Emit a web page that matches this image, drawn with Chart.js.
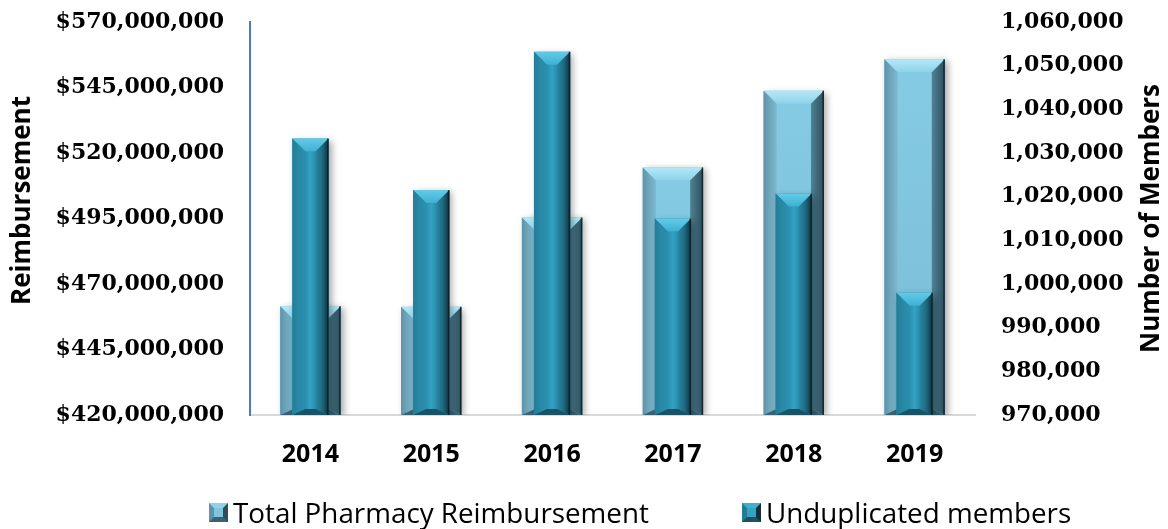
<!DOCTYPE html>
<html>
<head>
<meta charset="utf-8">
<title>Pharmacy reimbursement and members</title>
<script src="https://cdn.jsdelivr.net/npm/chart.js@4.4.1/dist/chart.umd.min.js"></script>
<style>
  html, body { margin: 0; padding: 0; background: #fff; }
  #wrap { position: relative; width: 1168px; height: 529px; }
  #legend { position: absolute; left: 0; top: 0; width: 100%; height: 100%; pointer-events: none;
            font-family: "Open Sans", sans-serif; font-size: 27.8px; color: #000; }
  .item { position: absolute; top: 494px; height: 36px; display: flex; align-items: center; white-space: nowrap; }
  .swatch { width: 9px; height: 9px; border-style: solid; border-width: 5px; margin-right: 5px; }
</style>
</head>
<body>
<div id="wrap">
  <canvas id="chart" width="1168" height="529"></canvas>
  <div id="legend"></div>
</div>
<script>
const years = ['2014', '2015', '2016', '2017', '2018', '2019'];
const reimbursement = [461500000, 461300000, 495400000, 514500000, 543800000, 555800000];
const members = [1033300, 1021500, 1053200, 1015000, 1020700, 998000];
const seriesNames = ['Total Pharmacy Reimbursement', 'Unduplicated members'];
const axisTitles = ['Reimbursement', 'Number of Members'];

const reimbMin = 420000000, reimbMax = 570000000, reimbStep = 25000000;
const membersMin = 970000, membersMax = 1060000, membersStep = 10000;

// bevel colours for the two bar styles (gradient stops run left to right / top to bottom)
const looks = {
  wide: {
    depth: 13, bottomDepth: 6,
    face: ['#86cbe4', '#7fc3dc', '#79bcd6'],
    top: ['#b2e8f8', '#8ed3ea'],
    left: ['#5f93a7', '#6fa8bd', '#7cb7cd'],
    right: ['#4f8396', '#3e6878', '#2e4e5b'],
    bottom: '#3b6272'
  },
  narrow: {
    depth: 13, bottomDepth: 6,
    face: ['#2a8fae', '#33a2c3', '#2a8cab'],
    top: ['#62cbe7', '#3fb0d2'],
    left: ['#247d97', '#2889a7', '#2a8fae'],
    right: ['#2787a5', '#1f6a80', '#10303a'],
    bottom: '#1a5365'
  }
};

function poly(ctx, pts, fill) {
  ctx.beginPath();
  ctx.moveTo(pts[0][0], pts[0][1]);
  for (let i = 1; i < pts.length; i++) ctx.lineTo(pts[i][0], pts[i][1]);
  ctx.closePath();
  ctx.fillStyle = fill;
  ctx.fill();
}

function gradient(ctx, x0, y0, x1, y1, stops) {
  const g = ctx.createLinearGradient(x0, y0, x1, y1);
  stops.forEach((c, i) => g.addColorStop(i / (stops.length - 1), c));
  return g;
}

function drawBevel(ctx, bar, look, flatFace) {
  const half = bar.width / 2;
  const x0 = bar.x - half, x1 = bar.x + half;
  const y0 = Math.min(bar.y, bar.base), y1 = Math.max(bar.y, bar.base);
  const b = Math.min(look.depth, half - 2, (y1 - y0) / 2);
  const bb = Math.min(look.bottomDepth, (y1 - y0) / 3);

  ctx.fillStyle = flatFace
    ? gradient(ctx, 0, y0, 0, y1, look.face)
    : gradient(ctx, x0 + b, 0, x1 - b, 0, look.face);
  ctx.fillRect(x0 + b, y0 + b, x1 - x0 - 2 * b, y1 - y0 - b - bb);

  poly(ctx, [[x0, y0], [x1, y0], [x1 - b, y0 + b], [x0 + b, y0 + b]],
    gradient(ctx, 0, y0, 0, y0 + b, look.top));
  poly(ctx, [[x0, y0], [x0 + b, y0 + b], [x0 + b, y1 - bb], [x0, y1]],
    gradient(ctx, x0, 0, x0 + b, 0, look.left));
  poly(ctx, [[x1, y0], [x1, y1], [x1 - b, y1 - bb], [x1 - b, y0 + b]],
    gradient(ctx, x1 - b, 0, x1, 0, look.right));
  poly(ctx, [[x0, y1], [x0 + b, y1 - bb], [x1 - b, y1 - bb], [x1, y1]], look.bottom);

  ctx.fillStyle = 'rgba(10,30,38,0.8)';
  ctx.fillRect(x1 - 1.5, y0, 1.5, y1 - y0);
}

// soft shadow under each bar, then the bevel on top of it
const bevelBars = {
  id: 'bevelBars',
  beforeDatasetDraw(chart) {
    const ctx = chart.ctx;
    ctx.save();
    ctx.shadowColor = 'rgba(0,0,0,0.35)';
    ctx.shadowBlur = 7;
    ctx.shadowOffsetX = 3;
    ctx.shadowOffsetY = 2;
  },
  afterDatasetDraw(chart, args) {
    const ctx = chart.ctx;
    ctx.restore();
    const key = chart.data.datasets[args.index].look;
    ctx.save();
    args.meta.data.forEach(bar => drawBevel(ctx, bar, looks[key], key === 'wide'));
    ctx.restore();
  }
};

// both axis titles read bottom to top
const sideTitles = {
  id: 'sideTitles',
  afterDraw(chart) {
    const {ctx, chartArea} = chart;
    const mid = (chartArea.top + chartArea.bottom) / 2;
    ctx.save();
    ctx.font = 'bold 26px "Open Sans"';
    ctx.fillStyle = '#000';
    ctx.textAlign = 'center';
    ctx.textBaseline = 'middle';
    [[23, mid - 18, axisTitles[0]], [1152, mid, axisTitles[1]]].forEach(([x, y, text]) => {
      ctx.save();
      ctx.translate(x, y);
      ctx.rotate(-Math.PI / 2);
      ctx.fillText(text, 0, 0);
      ctx.restore();
    });
    ctx.restore();
  }
};

const tickFont = {family: 'DejaVu Serif', weight: 'bold', size: 22};
// hidden tick marks keep the labels 26px away from the plot
const hiddenGrid = {display: false, drawTicks: true, tickLength: 26};

new Chart(document.getElementById('chart'), {
  type: 'bar',
  data: {
    labels: years,
    datasets: [
      {
        label: seriesNames[1],
        data: members,
        yAxisID: 'y1',
        base: membersMin,
        look: 'narrow',
        backgroundColor: '#2a91b0',
        borderWidth: 0,
        barPercentage: 0.3,
        categoryPercentage: 1
      },
      {
        label: seriesNames[0],
        data: reimbursement,
        yAxisID: 'y',
        base: reimbMin,
        look: 'wide',
        backgroundColor: '#7fc3dc',
        borderWidth: 0,
        barPercentage: 0.5,
        categoryPercentage: 1
      }
    ]
  },
  options: {
    responsive: false,
    devicePixelRatio: 1,
    animation: false,
    layout: {padding: {top: 22, left: 0, right: 0, bottom: 0}},
    datasets: {bar: {grouped: false}},
    plugins: {legend: {display: false}, tooltip: {enabled: false}},
    scales: {
      x: {
        grid: {display: false, drawTicks: false},
        border: {color: '#d9d9d9', width: 2},
        ticks: {color: '#000', padding: 25, font: {family: 'Open Sans', weight: 'bold', size: 25}},
        afterFit: s => { s.height = 114; }
      },
      y: {
        position: 'left',
        min: reimbMin,
        max: reimbMax,
        grid: hiddenGrid,
        border: {color: '#4a7ebb', width: 2},
        ticks: {
          stepSize: reimbStep,
          color: '#000',
          padding: 0,
          font: tickFont,
          callback: v => '$' + v.toLocaleString('en-US')
        },
        afterFit: s => { s.width = 250; }
      },
      y1: {
        position: 'right',
        min: membersMin,
        max: membersMax,
        grid: hiddenGrid,
        border: {display: false},
        ticks: {
          stepSize: membersStep,
          color: '#000',
          padding: 0,
          font: tickFont,
          callback: v => v.toLocaleString('en-US')
        },
        afterFit: s => { s.width = 193; }
      }
    }
  },
  plugins: [bevelBars, sideTitles]
});

// legend below the plot
const legendItems = [
  {name: seriesNames[0], left: 209, look: looks.wide},
  {name: seriesNames[1], left: 742, look: looks.narrow}
];
const legendEl = document.getElementById('legend');
legendItems.forEach(item => {
  const el = document.createElement('div');
  el.className = 'item';
  el.style.left = item.left + 'px';
  const sw = document.createElement('span');
  sw.className = 'swatch';
  sw.style.borderColor = `${item.look.top[1]} ${item.look.right[2]} ${item.look.bottom} ${item.look.left[0]}`;
  sw.style.background = item.look.face[1];
  el.appendChild(sw);
  el.appendChild(document.createTextNode(item.name));
  legendEl.appendChild(el);
});
</script>
</body>
</html>
